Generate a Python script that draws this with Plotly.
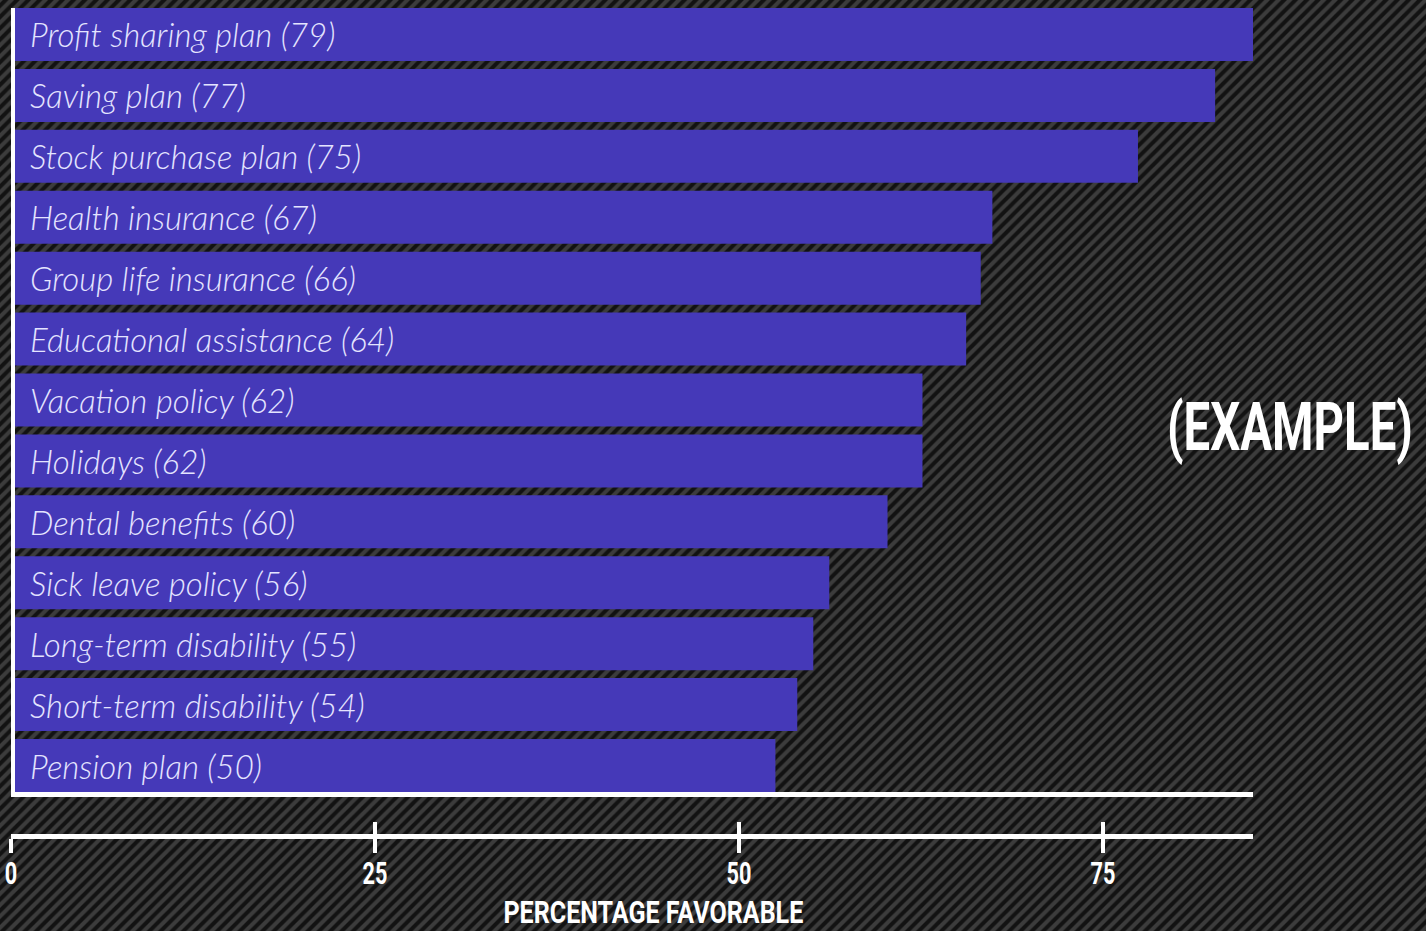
import plotly.graph_objects as go

W, H = 1426, 931

categories = [
    "Profit sharing plan", "Saving plan", "Stock purchase plan", "Health insurance",
    "Group life insurance", "Educational assistance", "Vacation policy", "Holidays",
    "Dental benefits", "Sick leave policy", "Long-term disability",
    "Short-term disability", "Pension plan",
]
label_values = [79, 77, 75, 67, 66, 64, 62, 62, 60, 56, 55, 54, 50]
bar_values = [85.3, 82.7, 77.4, 67.4, 66.6, 65.6, 62.6, 62.6, 60.2, 56.2, 55.1, 54.0, 52.5]
tick_values = [0, 25, 50, 75]
tick_labels = ["0", "25", "50", "75"]
x_max = 85.3

BAR_COLOR = "#4539B8"
LABEL_COLOR = "#e4e4ff"
COND = "Roboto, Lato, sans-serif"
LABEL_FONT = "Lato, Roboto, sans-serif"

# pixel layout helpers (styling only)
px_left, px_right = 11, 1253
px_top, px_bottom = 4, 796
px_axis = 835.5

def fx(p):
    return p / W

def fy(p):
    return 1 - p / H

fig = go.Figure()

# striped background over the whole page
fig.add_trace(go.Scatter(
    x=[0, 1, 1, 0, 0], y=[0, 0, 1, 1, 0], xaxis="x", yaxis="y",
    mode="none", fill="toself", fillcolor="#121212",
    fillpattern=dict(shape="/", size=8, solidity=0.5, fgcolor="#3c3c3c",
                     bgcolor="#121212", fillmode="replace"),
    hoverinfo="skip", showlegend=False,
))

# bars
fig.add_trace(go.Bar(
    x=bar_values, y=categories, orientation="h", xaxis="x2", yaxis="y2",
    marker=dict(color=BAR_COLOR, line=dict(width=0)),
    hoverinfo="skip", showlegend=False,
))

# invisible traces to carry the separate tick axes
for ax in ("x3", "x4"):
    fig.add_trace(go.Scatter(
        x=bar_values, y=categories, xaxis=ax, yaxis="y2", mode="markers",
        marker=dict(opacity=0), hoverinfo="skip", showlegend=False,
    ))

annotations = []
for cat, val in zip(categories, label_values):
    annotations.append(dict(
        x=0, y=cat, xref="x2", yref="y2", xanchor="left", yanchor="middle",
        xshift=17, showarrow=False, text=f"{cat} ({val})",
        font=dict(family=LABEL_FONT, size=33, color=LABEL_COLOR, style="italic", weight=300),
    ))

# placed left of its final spot so that even the un-condensed text fits the page;
# the script below condenses it and moves it to its final centre
annotations.append(dict(
    x=fx(1245), y=fy(427), xref="paper", yref="paper", xanchor="center", yanchor="middle",
    showarrow=False, text="(EXAMPLE)",
    font=dict(family=COND, size=66, color="white", weight="bold"),
))
annotations.append(dict(
    x=fx(653), y=fy(912), xref="paper", yref="paper", xanchor="center", yanchor="middle",
    showarrow=False, text="PERCENTAGE FAVORABLE",
    font=dict(family=COND, size=32, color="white", weight="bold"),
))

shapes = [
    dict(type="line", xref="paper", yref="paper", x0=fx(13), x1=fx(13),
         y0=fy(797), y1=fy(8), line=dict(color="white", width=4), layer="above"),
    dict(type="line", xref="paper", yref="paper", x0=fx(px_left), x1=fx(px_right),
         y0=fy(794.5), y1=fy(794.5), line=dict(color="white", width=5), layer="above"),
]

dom_x = [fx(px_left), fx(px_right)]
hidden = dict(visible=False, fixedrange=True, automargin=False)
n = len(categories)

fig.update_layout(
    width=W, height=H,
    margin=dict(l=0, r=0, t=0, b=0, autoexpand=False),
    paper_bgcolor="#121212",
    plot_bgcolor="rgba(0,0,0,0)",
    hovermode=False,
    bargap=0.13,
    xaxis=dict(domain=[0, 1], range=[0, 1], **hidden),
    yaxis=dict(domain=[0, 1], range=[0, 1], **hidden),
    xaxis2=dict(domain=dom_x, range=[0, x_max], anchor="y2", **hidden),
    yaxis2=dict(domain=[fy(px_bottom), fy(px_top)], anchor="x2", range=[n - 0.5, -0.5],
                type="category", **hidden),
    xaxis3=dict(domain=dom_x, range=[0, x_max], overlaying="x2", anchor="free",
                position=fy(px_axis), showline=True, linecolor="white", linewidth=5,
                ticks="outside", ticklen=14, tickwidth=4, tickcolor="white",
                tickvals=tick_values, showticklabels=False, showgrid=False, zeroline=False,
                fixedrange=True, automargin=False),
    xaxis4=dict(domain=dom_x, range=[0, x_max], overlaying="x2", anchor="free",
                position=fy(px_axis), showline=False,
                ticks="inside", ticklen=14, tickwidth=4, tickcolor="white",
                tickvals=tick_values, ticktext=tick_labels, showgrid=False, zeroline=False,
                tickfont=dict(family=COND, size=31, color="white", weight="bold"),
                ticklabelstandoff=17, fixedrange=True, automargin=False),
    annotations=annotations,
    shapes=shapes,
)

# condense the bold display texts horizontally (the reference uses a condensed face)
squeeze_js = """
var gd = document.getElementById('{plot_id}');
var targets = {'PERCENTAGE FAVORABLE': 300, '(EXAMPLE)': 246};
var centres = {'(EXAMPLE)': 1298};
gd.querySelectorAll('text').forEach(function(t){
  var ff = (t.style.fontFamily || '') + '';
  var fw = (t.style.fontWeight || '') + '';
  if (ff.indexOf('Roboto') !== 0 || !(fw === 'bold' || fw === '700')) return;
  if (t.getAttribute('data-sq')) return;
  var s = t.textContent;
  var bb = t.getBBox();
  if (!bb.width) return;
  var want = targets.hasOwnProperty(s) ? targets[s] : bb.width * 0.7;
  var sx = want / bb.width;
  var cx = bb.x + bb.width / 2;
  var tr = t.getAttribute('transform') || '';
  var pre = '';
  if (centres.hasOwnProperty(s)) {
    var r = t.getBoundingClientRect();
    pre = 'translate(' + (centres[s] - (r.left + r.width / 2)).toFixed(2) + ',0) ';
  }
  t.setAttribute('transform', pre + tr + ' translate(' + cx.toFixed(2) + ',0) scale(' +
                 sx.toFixed(4) + ',1) translate(' + (-cx).toFixed(2) + ',0)');
  t.setAttribute('data-sq', '1');
});
"""

fig.write_html("out.html", config={"displayModeBar": False}, post_script=squeeze_js)
